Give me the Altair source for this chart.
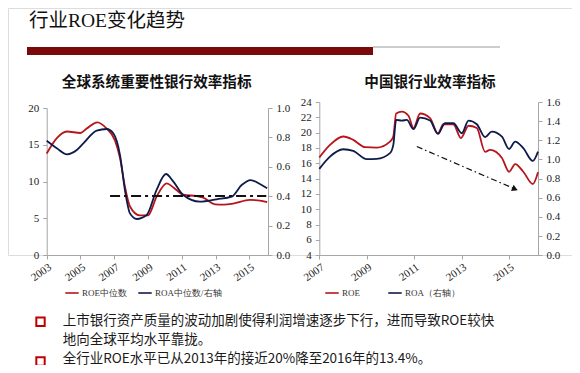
import altair as alt
import pandas as pd

# ---------------- text ----------------
TITLE = "行业ROE变化趋势"
LEFT_TITLE = "全球系统重要性银行效率指标"
RIGHT_TITLE = "中国银行业效率指标"
BULLET_LINES = [
    "上市银行资产质量的波动加剧使得利润增速逐步下行，进而导致ROE较快",
    "地向全球平均水平靠拢。",
    "全行业ROE水平已从2013年的接近20%降至2016年的13.4%。",
]
LEFT_SERIES = ["ROE中位数", "ROA中位数/右轴"]
RIGHT_SERIES = ["ROE", "ROA（右轴）"]

# ---------------- left chart data (global SIBs) ----------------
g_roe_year = [2003.0, 2003.6, 2004.2, 2005.0, 2005.37, 2006.0, 2006.55, 2007.04, 2007.34,
              2007.63, 2007.93, 2008.5, 2009.0, 2009.5, 2010.1, 2010.5, 2011.08, 2011.9,
              2012.27, 2012.96, 2013.5, 2014.04, 2015.03, 2015.72, 2016.05]
g_roe = [13.8, 15.9, 16.8, 16.6, 17.2, 18.05, 17.2, 15.6, 13.2,
         9.3, 6.6, 5.4, 5.4, 7.9, 9.75, 9.2, 8.2, 8.0,
         7.8, 6.9, 6.85, 7.0, 7.5, 7.35, 7.2]
g_roa_year = [2003.0, 2003.6, 2004.2, 2004.78, 2005.17, 2005.96, 2006.55, 2006.94, 2007.34,
              2007.63, 2007.93, 2008.33, 2008.92, 2009.5, 2010.06, 2010.5, 2011.08, 2012.07,
              2013.06, 2013.95, 2014.54, 2015.07, 2015.62, 2016.05]
g_roa = [0.777, 0.726, 0.685, 0.714, 0.76, 0.846, 0.857, 0.828, 0.68,
         0.442, 0.283, 0.245, 0.272, 0.442, 0.551, 0.499, 0.408, 0.363,
         0.379, 0.397, 0.476, 0.51, 0.483, 0.454]
g_avg_year = [2006.75, 2016.0]
g_avg = [8.03, 8.03]

# ---------------- right chart data (China banks) ----------------
c_roe_year = [2007.0, 2007.45, 2008.01, 2008.43, 2008.93, 2009.42, 2009.98, 2010.12, 2010.24,
              2010.48, 2010.76, 2010.97, 2011.25, 2011.67, 2012.0, 2012.23, 2012.65, 2012.97,
              2013.29, 2013.64, 2013.99, 2014.2, 2014.7, 2015.0, 2015.26, 2015.6, 2016.0, 2016.22]
c_roe = [16.75, 18.4, 19.5, 19.06, 18.1, 18.06, 18.84, 19.5, 22.5,
         22.75, 22.2, 20.6, 22.5, 21.9, 19.9, 21.1, 21.1, 19.3,
         20.9, 20.6, 17.5, 17.75, 16.7, 14.9, 15.9, 14.9, 13.3, 14.85]
c_roa_year = [2007.0, 2007.45, 2008.01, 2008.43, 2009.0, 2009.42, 2009.98, 2010.12, 2010.24,
              2010.48, 2010.69, 2010.97, 2011.25, 2011.67, 2012.0, 2012.3, 2012.65, 2013.01,
              2013.29, 2013.64, 2013.99, 2014.27, 2014.7, 2015.0, 2015.26, 2015.6, 2016.0, 2016.22]
c_roa = [0.902, 1.03, 1.107, 1.09, 1.003, 1.006, 1.066, 1.152, 1.413,
         1.406, 1.413, 1.316, 1.437, 1.406, 1.267, 1.378, 1.378, 1.274,
         1.406, 1.368, 1.233, 1.291, 1.239, 1.11, 1.187, 1.118, 0.985, 1.082]
c_arrow_year = [2011.11, 2015.25]
c_arrow = [18.19, 12.65]

# ---------------- ticks ----------------
G_X_TICKS = [2003, 2005, 2007, 2009, 2011, 2013, 2015]
G_YL_TICKS = [0, 5, 10, 15, 20]
G_YR_TICKS = [0.0, 0.2, 0.4, 0.6, 0.8, 1.0]
C_X_TICKS = [2007, 2009, 2011, 2013, 2015]
C_YL_TICKS = [4, 6, 8, 10, 12, 14, 16, 18, 20, 22, 24]
C_YR_TICKS = [0.0, 0.2, 0.4, 0.6, 0.8, 1.0, 1.2, 1.4, 1.6]

RED = "#B8141B"
BLUE = "#0E1A4A"
DARKRED = "#7A0A0A"
SERIF = "Liberation Serif"
CJK = "Noto Sans CJK SC"
W = 564          # full drawing width
H_VIEW = 247     # view height = bottom of both plot areas
PAD_BOTTOM = 110 # room below the plots for legends and notes (total 357)

g_roe_df = pd.DataFrame({"year": g_roe_year, "v": g_roe, "s": LEFT_SERIES[0]})
g_roa_df = pd.DataFrame({"year": g_roa_year, "v": g_roa, "s": LEFT_SERIES[1]})
g_avg_df = pd.DataFrame({"year": g_avg_year, "v": g_avg})
c_roe_df = pd.DataFrame({"year": c_roe_year, "v": c_roe, "s": RIGHT_SERIES[0]})
c_roa_df = pd.DataFrame({"year": c_roa_year, "v": c_roa, "s": RIGHT_SERIES[1]})
c_arr_df = pd.DataFrame({"year": c_arrow_year, "v": c_arrow})
c_tip_df = c_arr_df.iloc[[-1]]

# scales
gx = alt.Scale(domain=[2003, 2016.1], range=[38.7, 260])
gyl = alt.Scale(domain=[0, 20], range=[247, 100])
gyr = alt.Scale(domain=[0, 1], range=[247, 100])
cx = alt.Scale(domain=[2007, 2016.22], range=[311.3, 530])
cyl = alt.Scale(domain=[4, 24], range=[247.3, 94])
cyr = alt.Scale(domain=[0, 1.6], range=[247.3, 94])

common_axis = dict(title=None, grid=False, labelFlush=False, labelOverlap=False,
                   domainColor="#A6A6A6", tickColor="#A6A6A6", tickSize=4,
                   labelFont=SERIF, labelFontSize=11, labelColor="#222222")


def xaxis(values):
    return alt.Axis(values=values, format="d", orient="bottom", offset=0,
                    labelAngle=-35, labelAlign="right", labelBaseline="top",
                    labelPadding=2, **common_axis)


def yaxis(values, orient, offset, fmt):
    return alt.Axis(values=values, format=fmt, orient=orient, offset=offset,
                    labelPadding=4, **common_axis)


def legend(x, y, pad):
    return alt.Legend(orient="none", legendX=x, legendY=y, direction="horizontal",
                      title=None, symbolType="stroke", symbolSize=180,
                      symbolStrokeWidth=1.6, labelFont=SERIF, labelFontSize=9,
                      labelColor="#333333", columnPadding=pad, labelOffset=2)


G_XAXIS = xaxis(G_X_TICKS)
C_XAXIS = xaxis(C_X_TICKS)

g_color = alt.Color("s:N", scale=alt.Scale(domain=LEFT_SERIES, range=[RED, BLUE]),
                    legend=legend(56, 277, 8))
c_color = alt.Color("s:N", scale=alt.Scale(domain=RIGHT_SERIES, range=[RED, BLUE]),
                    legend=legend(316, 277, 25))

g_roe_line = alt.Chart(g_roe_df).mark_line(interpolate="monotone", strokeWidth=1.8).encode(
    x=alt.X("year:Q", scale=gx, axis=G_XAXIS),
    y=alt.Y("v:Q", scale=gyl, axis=yaxis(G_YL_TICKS, "left", -38.7, "d")),
    color=g_color,
)
g_roa_line = alt.Chart(g_roa_df).mark_line(interpolate="monotone", strokeWidth=1.8).encode(
    x=alt.X("year:Q", scale=gx, axis=G_XAXIS),
    y=alt.Y("v:Q", scale=gyr, axis=yaxis(G_YR_TICKS, "right", 260 - W, ".1f")),
    color=g_color,
)
g_avg_line = alt.Chart(g_avg_df).mark_line(color="#111111", strokeWidth=2,
                                           strokeDash=[10, 4, 3, 4]).encode(
    x=alt.X("year:Q", scale=gx, axis=G_XAXIS),
    y=alt.Y("v:Q", scale=gyl, axis=None),
)
left = alt.layer(g_roe_line, g_roa_line, g_avg_line).resolve_scale(y="independent")

c_roe_line = alt.Chart(c_roe_df).mark_line(interpolate="monotone", strokeWidth=1.8).encode(
    x=alt.X("year:Q", scale=cx, axis=C_XAXIS),
    y=alt.Y("v:Q", scale=cyl, axis=yaxis(C_YL_TICKS, "left", -311.3, "d")),
    color=c_color,
)
c_roa_line = alt.Chart(c_roa_df).mark_line(interpolate="monotone", strokeWidth=1.8).encode(
    x=alt.X("year:Q", scale=cx, axis=C_XAXIS),
    y=alt.Y("v:Q", scale=cyr, axis=yaxis(C_YR_TICKS, "right", 530 - W, ".1f")),
    color=c_color,
)
c_arrow_line = alt.Chart(c_arr_df).mark_line(color="#111111", strokeWidth=1.2,
                                             strokeDash=[6, 3, 1.5, 3]).encode(
    x=alt.X("year:Q", scale=cx, axis=C_XAXIS),
    y=alt.Y("v:Q", scale=cyl, axis=None),
)
c_arrow_tip = alt.Chart(c_tip_df).mark_point(shape="triangle-right", filled=True, size=45,
                                             angle=23, color="#111111", opacity=1).encode(
    x=alt.X("year:Q", scale=cx, axis=C_XAXIS),
    y=alt.Y("v:Q", scale=cyl, axis=None),
)
right = alt.layer(c_roe_line, c_roa_line, c_arrow_line, c_arrow_tip).resolve_scale(y="independent")


def text_layer(txt, x, y, size, font, align="left", weight="normal", color="#111111"):
    return alt.Chart(pd.DataFrame({"t": [txt]})).mark_text(
        align=align, baseline="middle", fontSize=size, font=font, fontWeight=weight,
        color=color).encode(x=alt.value(x), y=alt.value(y), text="t:N")


one = pd.DataFrame({"k": [0]})
header = text_layer(TITLE, 21, 13, 19.5, f"{SERIF}, {CJK}")
bar = alt.Chart(one).mark_rect(color=DARKRED).encode(
    x=alt.value(19), x2=alt.value(365), y=alt.value(39), y2=alt.value(47))
thin = alt.Chart(one).mark_rule(color="#9A9A9A", strokeWidth=1).encode(
    x=alt.value(365), x2=alt.value(492), y=alt.value(39))
ltitle = text_layer(LEFT_TITLE, 148.7, 74.7, 14.6, CJK, align="center", weight="bold")
rtitle = text_layer(RIGHT_TITLE, 422, 74.7, 14.6, CJK, align="center", weight="bold")

sq1 = alt.Chart(one).mark_point(shape="square", filled=False, size=70, strokeWidth=2,
                                color="#C00000", opacity=1).encode(
    x=alt.value(32.5), y=alt.value(313.7))
sq2 = alt.Chart(one).mark_point(shape="square", filled=False, size=70, strokeWidth=2,
                                color="#C00000", opacity=1).encode(
    x=alt.value(32.5), y=alt.value(353.5))
b1 = text_layer(BULLET_LINES[0], 54.7, 313.3, 13.5, CJK, color="#1A1A1A")
b2 = text_layer(BULLET_LINES[1], 54.7, 331.5, 13.5, CJK, color="#1A1A1A")
b3 = text_layer(BULLET_LINES[2], 54.7, 350.5, 13.5, CJK, color="#1A1A1A")

chart = alt.layer(
    header, bar, thin, ltitle, rtitle, left, right, sq1, sq2, b1, b2, b3
).resolve_scale(
    x="independent", y="independent", color="independent"
).properties(
    width=W, height=H_VIEW,
    padding={"left": 0, "top": 0, "right": 0, "bottom": PAD_BOTTOM},
    autosize=alt.AutoSizeParams(type="none"),
).configure_view(stroke=None).configure(background="white")

chart.save("out.html", embed_options={"renderer": "svg", "actions": False})
